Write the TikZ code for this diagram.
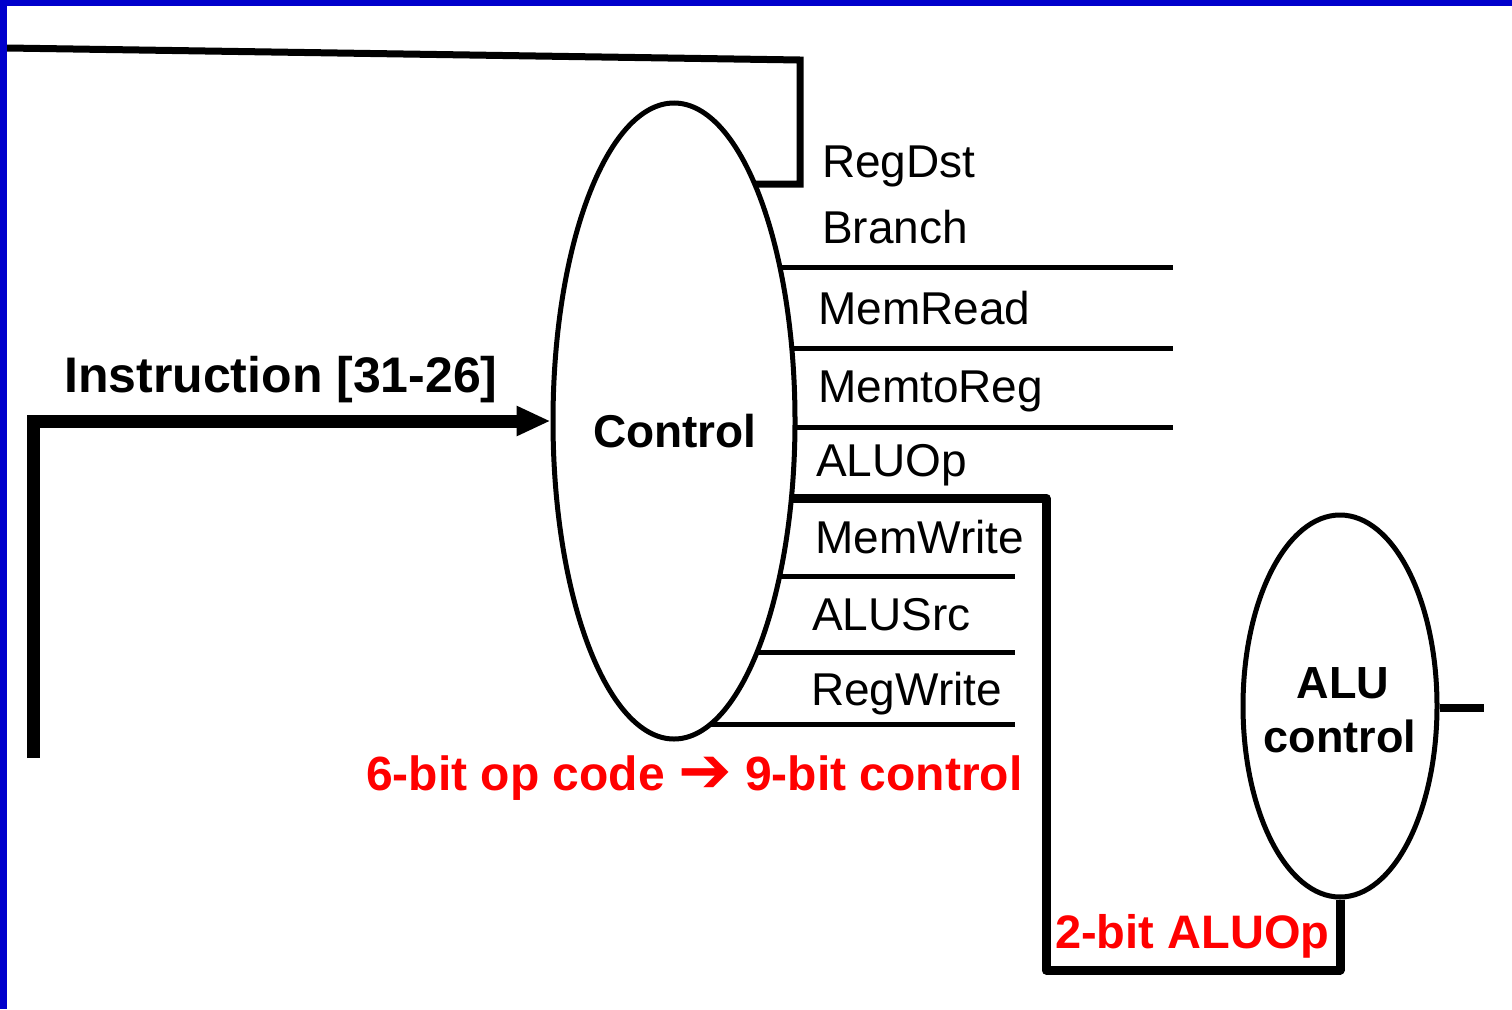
\documentclass[tikz,border=0pt]{standalone}
\usepackage{fontspec}
\setmainfont{Liberation Sans}
\newfontfamily\dingfont{DejaVu Sans}
\usetikzlibrary{shapes.geometric,arrows.meta,backgrounds}

\definecolor{frameblue}{RGB}{0,0,204}
\definecolor{notered}{RGB}{255,0,0}

\tikzset{
  unit/.style={ellipse, draw=black, fill=white, line width=5pt, inner sep=0pt},
  sigline/.style={draw=black, line width=5pt},
  signame/.style={anchor=base west, inner sep=0pt, font=\fontsize{46}{50}\selectfont},
  unitname/.style={anchor=base, inner sep=0pt, font=\bfseries\fontsize{46}{50}\selectfont},
  note/.style={anchor=base west, inner sep=0pt, text=notered, font=\bfseries\fontsize{47}{52}\selectfont},
}

\begin{document}
\begin{tikzpicture}[x=1pt, y=-1pt]
  \useasboundingbox (0,0) rectangle (1512,1009);

  % units
  \node[unit, minimum width=242pt, minimum height=636pt] (ctl) at (674,421) {};
  \node[unitname] (ctltxt) at (675,447) {Control};

  \node[unit, minimum width=194pt, minimum height=382pt] (aluc) at (1340,706) {};
  \node[unitname, font=\bfseries\fontsize{45}{50}\selectfont] (alutxt1) at (1343,698) {ALU};
  \node[unitname, font=\bfseries\fontsize{45}{50}\selectfont] (alutxt2) at (1340,752) {control};

  % free ends of the control outputs
  \coordinate (rdA) at (800,184);
  \coordinate (rdB) at (800,60);
  \coordinate (rdC) at (7,48);
  \coordinate (brE) at (1173,267);
  \coordinate (mrE) at (1173,348);
  \coordinate (mtE) at (1173,427);
  \coordinate (opA) at (1046,498);
  \coordinate (opB) at (1046,970);
  \coordinate (opC) at (1340,970);
  \coordinate (mwE) at (1015,576);
  \coordinate (asE) at (1015,652);
  \coordinate (rwE) at (1015,724);
  \coordinate (aluout) at (1484,708);
  \coordinate (instin) at (33,758);

  % wires start at the unit centres and are hidden by the white unit fill
  \begin{scope}[on background layer]
    \fill[white] (0,0) rectangle (1512,1009);
    \draw[black, line width=7pt, line join=miter] (ctl.center |- rdA) -- (rdA) -- (rdB) -- (rdC);
    \draw[sigline] (ctl.center |- brE) -- (brE);
    \draw[sigline] (ctl.center |- mrE) -- (mrE);
    \draw[sigline] (ctl.center |- mtE) -- (mtE);
    \draw[black, line width=9pt, line join=round] (ctl.center |- opA) -- (opA) -- (opB) -- (opC) -- (aluc.south);
    \draw[sigline] (ctl.center |- mwE) -- (mwE);
    \draw[sigline] (ctl.center |- asE) -- (asE);
    \draw[sigline] (ctl.center |- rwE) -- (rwE);
  \end{scope}

  % frame edges
  \fill[frameblue] (0,0) rectangle (1512,6);
  \fill[frameblue] (0,0) rectangle (7,1009);

  \draw[black, line width=8pt] (aluc.east |- aluout) -- (aluout);

  % instruction opcode input
  \draw[black, line width=13pt, line join=miter,
        -{Triangle[length=34pt, width=28pt]}]
    (instin) |- (ctl.west);
  \node[anchor=base west, inner sep=0pt, font=\bfseries\fontsize{50}{55}\selectfont] (insttxt) at (64,392) {Instruction [31-26]};

  % output names
  \node[signame] (tRegDst)   at (822,177) {RegDst};
  \node[signame] (tBranch)   at (822,243) {Branch};
  \node[signame] (tMemRead)  at (818,324) {MemRead};
  \node[signame] (tMemtoReg) at (818,402) {MemtoReg};
  \node[signame] (tALUOp)    at (816,476) {ALUOp};
  \node[signame] (tMemWrite) at (815,553) {MemWrite};
  \node[signame] (tALUSrc)   at (812,630) {ALUSrc};
  \node[signame] (tRegWrite) at (811,705) {RegWrite};

  % annotations
  \node[note, font=\bfseries\fontsize{48}{52}\selectfont] (opnote) at (366,790) {6-bit op code {\dingfont\fontsize{64}{64}\selectfont\raisebox{-2pt}{➔}} 9-bit control};
  \node[note] (aluopnote) at (1055,948) {2-bit ALUOp};
\end{tikzpicture}
\end{document}
